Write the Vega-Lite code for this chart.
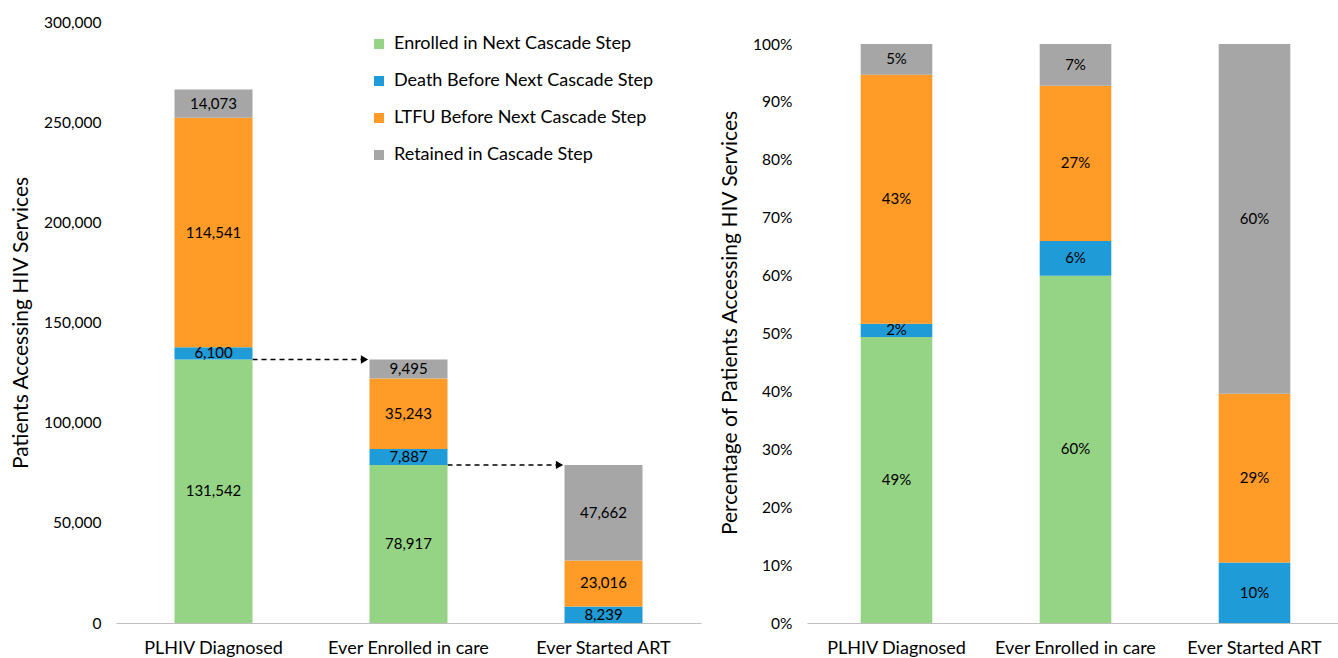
{
  "$schema": "https://vega.github.io/schema/vega-lite/v6.json",
  "background": "white",
  "padding": {"left": 10, "top": 15, "right": 0, "bottom": 0},
  "spacing": 18,
  "config": {
    "view": {"stroke": null},
    "font": "Lato",
    "axis": {"labelFont": "Lato", "titleFont": "Lato", "labelColor": "#000", "titleColor": "#000", "titleFontWeight": "normal", "titleFontSize": 21, "labelFontSize": 15.5, "grid": false, "ticks": false, "tickSize": 0},
    "axisX": {"domain": true, "domainColor": "#bfbfbf", "domainWidth": 1, "labelFontSize": 18, "labelPadding": 16, "labelAngle": 0},
    "axisY": {"domain": false, "labelPadding": 15, "titlePadding": 12},
    "legend": {"labelFont": "Lato", "labelFontSize": 18, "labelColor": "#000"}
  },
  "datasets": {
    "bars": [
      {"step": "PLHIV Diagnosed", "cat": "Enrolled in Next Cascade Step", "o": 1, "value": 131542, "pct": 0.4940},
      {"step": "PLHIV Diagnosed", "cat": "Death Before Next Cascade  Step", "o": 2, "value": 6100, "pct": 0.0229},
      {"step": "PLHIV Diagnosed", "cat": "LTFU Before Next Cascade Step", "o": 3, "value": 114541, "pct": 0.4302},
      {"step": "PLHIV Diagnosed", "cat": "Retained in Cascade Step", "o": 4, "value": 14073, "pct": 0.0529},
      {"step": "Ever Enrolled in care", "cat": "Enrolled in Next Cascade Step", "o": 1, "value": 78917, "pct": 0.5999},
      {"step": "Ever Enrolled in care", "cat": "Death Before Next Cascade  Step", "o": 2, "value": 7887, "pct": 0.0600},
      {"step": "Ever Enrolled in care", "cat": "LTFU Before Next Cascade Step", "o": 3, "value": 35243, "pct": 0.2679},
      {"step": "Ever Enrolled in care", "cat": "Retained in Cascade Step", "o": 4, "value": 9495, "pct": 0.0722},
      {"step": "Ever Started ART", "cat": "Death Before Next Cascade  Step", "o": 2, "value": 8239, "pct": 0.1044},
      {"step": "Ever Started ART", "cat": "LTFU Before Next Cascade Step", "o": 3, "value": 23016, "pct": 0.2916},
      {"step": "Ever Started ART", "cat": "Retained in Cascade Step", "o": 4, "value": 47662, "pct": 0.6040}
    ],
    "arrows": [
      {"from": "PLHIV Diagnosed", "to": "Ever Enrolled in care", "value": 131542},
      {"from": "Ever Enrolled in care", "to": "Ever Started ART", "value": 78917}
    ]
  },
  "hconcat": [
    {
      "width": 585,
      "height": 601,
      "layer": [
        {
          "data": {"name": "arrows"},
          "mark": {"type": "rule", "strokeDash": [5, 4], "color": "black", "strokeWidth": 1.5},
          "encoding": {
            "x": {"field": "from", "type": "nominal", "bandPosition": 1, "title": null},
            "x2": {"field": "to", "bandPosition": 0},
            "y": {"field": "value", "type": "quantitative", "title": "Patients Accessing HIV Services",
              "axis": {"values": [0, 50000, 100000, 150000, 200000, 250000, 300000], "format": ",.0f"}}
          }
        },
        {
          "data": {"name": "arrows"},
          "mark": {"type": "point", "shape": "triangle-right", "filled": true, "color": "black", "size": 70, "opacity": 1, "xOffset": -5},
          "encoding": {
            "x": {"field": "to", "type": "nominal", "bandPosition": 0, "title": null},
            "y": {"field": "value", "type": "quantitative", "title": "Patients Accessing HIV Services",
              "axis": {"values": [0, 50000, 100000, 150000, 200000, 250000, 300000], "format": ",.0f"}}
          }
        },
        {
          "data": {"name": "bars"},
          "mark": {"type": "bar"},
          "encoding": {
            "x": {"field": "step", "type": "nominal", "title": null,
              "scale": {"domain": ["PLHIV Diagnosed", "Ever Enrolled in care", "Ever Started ART"], "paddingInner": 0.6, "paddingOuter": 0.3}},
            "y": {"field": "value", "type": "quantitative", "stack": "zero", "title": "Patients Accessing HIV Services",
              "scale": {"domain": [0, 300000], "nice": false},
              "axis": {"values": [0, 50000, 100000, 150000, 200000, 250000, 300000], "format": ",.0f"}},
            "color": {"field": "cat", "type": "nominal",
              "scale": {"domain": ["Enrolled in Next Cascade Step", "Death Before Next Cascade  Step", "LTFU Before Next Cascade Step", "Retained in Cascade Step"],
                        "range": ["#95d385", "#1f9bd7", "#ff9b26", "#a6a6a6"]},
              "legend": {"title": null, "orient": "none", "legendX": 254, "legendY": 13, "symbolType": "square", "symbolSize": 100, "symbolStrokeWidth": 0, "labelOffset": 6, "rowPadding": 19, "labelLimit": 400}},
            "order": {"field": "o", "type": "quantitative"}
          }
        },
        {
          "data": {"name": "bars"},
          "transform": [
            {"stack": "value", "groupby": ["step"], "sort": [{"field": "o"}], "as": ["y0", "y1"]},
            {"fold": ["y0", "y1"], "as": ["k", "v"]}
          ],
          "mark": {"type": "text", "fontSize": 15, "baseline": "middle", "align": "center", "color": "black"},
          "encoding": {
            "x": {"field": "step", "type": "nominal", "title": null},
            "y": {"field": "v", "type": "quantitative", "aggregate": "mean", "title": "Patients Accessing HIV Services",
              "axis": {"values": [0, 50000, 100000, 150000, 200000, 250000, 300000], "format": ",.0f"}},
            "detail": {"field": "cat"},
            "text": {"field": "value", "type": "quantitative", "format": ",.0f"}
          }
        }
      ]
    },
    {
      "width": 537,
      "height": 601,
      "data": {"name": "bars"},
      "layer": [
        {
          "mark": {"type": "bar"},
          "encoding": {
            "x": {"field": "step", "type": "nominal", "title": null,
              "scale": {"domain": ["PLHIV Diagnosed", "Ever Enrolled in care", "Ever Started ART"], "paddingInner": 0.6, "paddingOuter": 0.3}},
            "y": {"field": "pct", "type": "quantitative", "stack": "zero", "title": "Percentage of Patients Accessing HIV Services",
              "scale": {"domain": [0, 1.038], "nice": false},
              "axis": {"values": [0, 0.1, 0.2, 0.3, 0.4, 0.5, 0.6, 0.7, 0.8, 0.9, 1], "format": ".0%"}},
            "color": {"field": "cat", "type": "nominal",
              "scale": {"domain": ["Enrolled in Next Cascade Step", "Death Before Next Cascade  Step", "LTFU Before Next Cascade Step", "Retained in Cascade Step"],
                        "range": ["#95d385", "#1f9bd7", "#ff9b26", "#a6a6a6"]},
              "legend": null},
            "order": {"field": "o", "type": "quantitative"}
          }
        },
        {
          "transform": [
            {"stack": "pct", "groupby": ["step"], "sort": [{"field": "o"}], "as": ["p0", "p1"]},
            {"fold": ["p0", "p1"], "as": ["k", "v"]}
          ],
          "mark": {"type": "text", "fontSize": 15, "baseline": "middle", "align": "center", "color": "black"},
          "encoding": {
            "x": {"field": "step", "type": "nominal", "title": null},
            "y": {"field": "v", "type": "quantitative", "aggregate": "mean", "title": "Percentage of Patients Accessing HIV Services",
              "axis": {"values": [0, 0.1, 0.2, 0.3, 0.4, 0.5, 0.6, 0.7, 0.8, 0.9, 1], "format": ".0%"}},
            "detail": {"field": "cat"},
            "text": {"field": "pct", "type": "quantitative", "format": ".0%"}
          }
        }
      ]
    }
  ],
  "resolve": {"scale": {"color": "independent", "x": "independent", "y": "independent"}}
}
